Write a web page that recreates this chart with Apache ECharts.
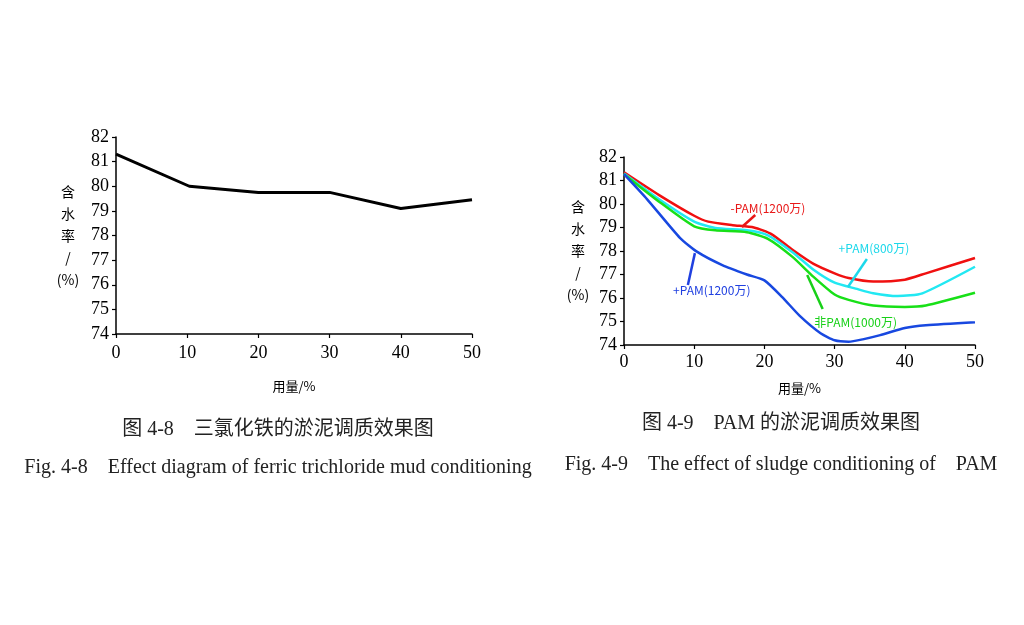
<!DOCTYPE html>
<html><head><meta charset="utf-8">
<script src="https://cdn.jsdelivr.net/npm/echarts@6/dist/echarts.min.js"></script>
<style>html,body{margin:0;padding:0;background:#fff}#c{width:1024px;height:625px}</style>
</head><body><div id="c"></div>
<script>
// Fig 4-8 data
const xTicks = [0, 10, 20, 30, 40, 50];
const yTicks = [74, 75, 76, 77, 78, 79, 80, 81, 82];
const fecl3X = [0, 10.3, 20, 30, 40, 50];
const fecl3Y = [81.3, 80.0, 79.75, 79.75, 79.1, 79.45];

// Fig 4-9 data
const redX  = [0, 5, 10, 12, 15.5, 18.5, 21, 24, 27, 30, 32, 35.5, 40, 43, 50];
const redY  = [81.35, 80.38, 79.5, 79.25, 79.1, 79.0, 78.72, 78.05, 77.45, 77.05, 76.85, 76.7, 76.78, 77.05, 77.7];
const cyanX = [0, 5, 10, 13, 17.5, 20.5, 24, 27, 30, 33, 35.5, 39, 42.5, 50];
const cyanY = [81.3, 80.2, 79.25, 78.98, 78.88, 78.67, 77.95, 77.2, 76.65, 76.4, 76.2, 76.08, 76.2, 77.33];
const greenX = [0, 5, 10, 13, 17.5, 20.5, 24, 27, 30, 32, 35.5, 40, 43, 50];
const greenY = [81.27, 80.1, 79.05, 78.88, 78.8, 78.52, 77.75, 76.9, 76.15, 75.92, 75.68, 75.62, 75.68, 76.22];
const blueX = [0, 3.3, 8, 10.5, 14, 17.5, 20, 22.5, 25, 28, 30, 32, 34, 36.5, 40, 43, 50];
const blueY = [81.27, 80.2, 78.55, 77.95, 77.4, 77.0, 76.75, 76.05, 75.25, 74.5, 74.2, 74.14, 74.24, 74.42, 74.72, 74.84, 74.97];

// annotation labels: [text, labelX, labelY, lineFromX, lineFromY, lineToX, lineToY]
const labRed   = ['-PAM(1200万)', 20.5, 79.83, 18.7, 79.53, 16.8, 79.02];
const labCyan  = ['+PAM(800万)', 35.6, 78.13, 34.6, 77.66, 31.9, 76.47];
const labGreen = ['非PAM(1000万)', 33.0, 74.94, 28.3, 75.53, 26.1, 76.98];
const labBlue  = ['+PAM(1200万)', 12.5, 76.34, 9.1, 76.55, 10.1, 77.91];

const yName = '含\n水\n率\n/\n(%)';
const xName = '用量/%';
const captions = [
  ['图 4-8    三氯化铁的淤泥调质效果图', 278, 430],
  ['Fig. 4-8    Effect diagram of ferric trichloride mud conditioning', 278, 468],
  ['图 4-9    PAM 的淤泥调质效果图', 781, 424],
  ['Fig. 4-9    The effect of sludge conditioning of    PAM', 781, 465]
];

const zip = (xs, ys) => xs.map((x, i) => [x, ys[i]]);
const serif = '"Liberation Serif", "Times New Roman", serif';
const cjk = '"Noto Sans CJK SC", sans-serif';

function mkX(gi, gap, margin) {
  return {
    type: 'value', gridIndex: gi, min: 0, max: 50, interval: 10,
    name: xName, nameLocation: 'middle', nameGap: gap,
    nameTextStyle: { fontFamily: cjk, fontSize: 13, color: '#000' },
    axisLine: { show: true, lineStyle: { color: '#000', width: 1.5 } },
    axisTick: { show: true, inside: false, length: 4, lineStyle: { color: '#000', width: 1.2 } },
    axisLabel: { fontFamily: serif, fontSize: 18, color: '#000', margin: margin },
    splitLine: { show: false }
  };
}
function mkY(gi, gap) {
  return {
    type: 'value', gridIndex: gi, min: 74, max: 82, interval: 1,
    name: yName, nameLocation: 'middle', nameGap: gap, nameRotate: 0,
    nameTextStyle: { fontFamily: cjk, fontSize: 14, color: '#000', lineHeight: 22, align: 'center', verticalAlign: 'middle' },
    axisLine: { show: true, lineStyle: { color: '#000', width: 1.5 } },
    axisTick: { show: true, inside: false, length: 4, lineStyle: { color: '#000', width: 1.2 } },
    axisLabel: { fontFamily: serif, fontSize: 18, color: '#000', margin: 7 },
    splitLine: { show: false }
  };
}
function annot(lab, color) {
  return {
    silent: true,
    markPoint: {
      symbol: 'circle', symbolSize: 0, animation: false,
      data: [{ coord: [lab[1], lab[2]], value: lab[0],
        label: { show: true, position: 'inside', formatter: lab[0], color: color, fontFamily: cjk, fontSize: 12 } }]
    },
    markLine: {
      symbol: ['none', 'none'], animation: false, silent: true,
      label: { show: false },
      lineStyle: { color: color, width: 2.5, type: 'solid' },
      data: [[{ coord: [lab[3], lab[4]] }, { coord: [lab[5], lab[6]] }]]
    }
  };
}
function lineSeries(xs, ys, color, lab, labColor) {
  const s = {
    type: 'line', xAxisIndex: 1, yAxisIndex: 1, data: zip(xs, ys),
    showSymbol: false, smooth: 0.2, lineStyle: { color: color, width: 2.5 }, itemStyle: { color: color },
    animation: false
  };
  return Object.assign(s, annot(lab, labColor));
}

const chart = echarts.init(document.getElementById('c'), null, { renderer: 'canvas' });
chart.setOption({
  backgroundColor: '#fff',
  animation: false,
  grid: [
    { left: 116, right: 552, top: 137, bottom: 291 },
    { left: 624, right: 49, top: 157, bottom: 280 }
  ],
  xAxis: [mkX(0, 46, 10), mkX(1, 37, 8)],
  yAxis: [mkY(0, 48), mkY(1, 46)],
  series: [
    { type: 'line', xAxisIndex: 0, yAxisIndex: 0, data: zip(fecl3X, fecl3Y), showSymbol: false,
      lineStyle: { color: '#000', width: 3 }, itemStyle: { color: '#000' } },
    lineSeries(redX, redY, '#f01010', labRed, '#e81818'),
    lineSeries(cyanX, cyanY, '#22e8f2', labCyan, '#1cd8ea'),
    lineSeries(greenX, greenY, '#18e018', labGreen, '#18d018'),
    lineSeries(blueX, blueY, '#1848e0', labBlue, '#2040e0')
  ],
  graphic: captions.map((c, i) => ({
    type: 'text', x: c[1], y: c[2],
    style: { text: c[0], fill: '#222', font: (i % 2 === 0 ? '20px ' : '20px ') + '"Liberation Serif", "Noto Sans CJK SC", serif',
      textAlign: 'center', textVerticalAlign: 'middle' }
  }))
});
</script></body></html>
